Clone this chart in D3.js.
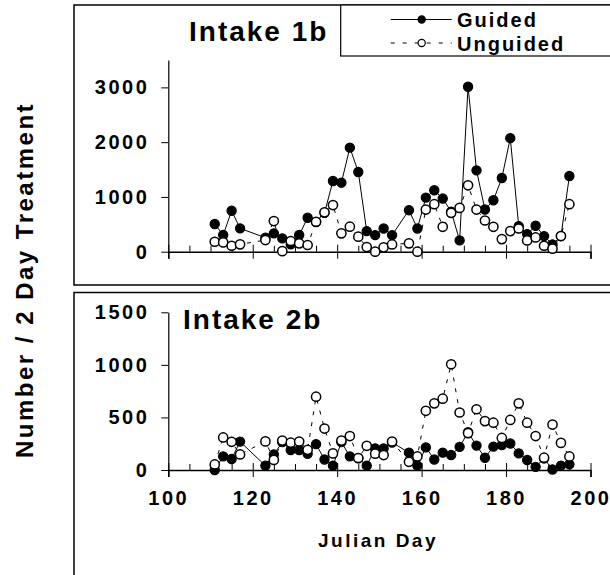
<!DOCTYPE html>
<html>
<head>
<meta charset="utf-8">
<script src="https://cdn.jsdelivr.net/npm/d3@7"></script>
<style>
  body { margin: 0; background: #fff; }
  text { font-family: "Liberation Sans", Arial, sans-serif; font-weight: bold; fill: #000; }
</style>
</head>
<body>
<div id="chart"></div>
<script>
const days = [111,113,115,117,123,125,127,129,131,133,135,137,139,141,143,145,147,149,151,153,
              157,159,161,163,165,167,169,171,173,175,177,179,181,183,185,187,189,191,193,195];

const guided1b   = [505,305,748,426,255,335,243,134,304,620,540,710,1290,1260,1900,1455,376,303,424,303,
                    758,424,988,1121,970,730,206,3012,1485,770,939,1345,2073,467,321,473,285,133,285,1382];
const unguided1b = [182,170,109,134,213,560,10,195,152,122,547,718,851,335,456,274,85,0,79,133,
                    152,0,770,867,455,709,800,1212,770,570,455,230,376,424,206,260,109,55,285,867];

const guided2b   = [0,130,105,270,41,148,265,190,190,155,246,100,41,265,130,112,41,205,205,262,
                    165,41,215,100,165,142,220,359,232,117,222,238,252,158,95,30,110,5,41,54];
const unguided2b = [53,310,268,148,272,96,280,260,271,192,697,394,158,280,323,114,230,155,142,271,
                    78,129,563,634,678,1006,547,351,578,465,450,305,476,634,450,323,117,432,258,129];

const xTicks = [100,120,140,160,180,200];
const xMinor = d3.range(105, 200, 5).filter(d => d % 20 !== 0);
const yTicks1b = [0,1000,2000,3000];
const yTicks2b = [0,500,1000,1500];

const svg = d3.select("#chart").append("svg")
    .attr("width", 610)
    .attr("height", 575);

// panel frames
svg.append("rect").attr("x", 74).attr("y", 5).attr("width", 600).attr("height", 280)
    .attr("fill", "none").attr("stroke", "#000").attr("stroke-width", 1.5);
svg.append("rect").attr("x", 74).attr("y", 292.5).attr("width", 600).attr("height", 320)
    .attr("fill", "none").attr("stroke", "#000").attr("stroke-width", 1.5);

const xScale = d3.scaleLinear().domain([100, 200]).range([168.3, 590.5]);

function drawPanel(title, titleX, titleY, yMax, yTicks, y0, yTop, guided, unguided, showXLabels) {
  const yScale = d3.scaleLinear().domain([0, yMax]).range([y0, yTop]);
  const g = svg.append("g");

  g.append("text")
      .attr("x", titleX).attr("y", titleY)
      .style("font-size", "28px").style("letter-spacing", "2px")
      .text(title);

  // y axis
  const ya = g.append("g")
      .attr("transform", "translate(" + xScale(100) + ",0)")
      .call(d3.axisLeft(yScale).tickValues(yTicks).tickFormat(d3.format("d"))
        .tickSize(7).tickSizeOuter(0).tickPadding(12));
  ya.select(".domain").attr("stroke-width", 1.2);
  ya.selectAll("text").style("font-size", "20px").style("letter-spacing", "2.5px");

  // minor x ticks (inside)
  g.append("g")
      .attr("transform", "translate(0," + y0 + ")")
      .call(d3.axisTop(xScale).tickValues(xMinor).tickSize(6).tickFormat(""))
      .select(".domain").remove();

  // major x ticks, crossing the axis
  const xa = g.append("g")
      .attr("transform", "translate(0," + y0 + ")")
      .call(d3.axisBottom(xScale).tickValues(xTicks).tickSizeOuter(0).tickSize(7).tickPadding(14)
        .tickFormat(showXLabels ? d3.format("d") : ""));
  xa.select(".domain").attr("stroke-width", 1.5);
  xa.selectAll(".tick line").attr("y1", -7).attr("y2", 7);
  xa.selectAll("text").style("font-size", "20px").style("letter-spacing", "2.5px");

  const line = d3.line().x((d, i) => xScale(days[i])).y(d => yScale(d));

  g.append("path").datum(guided)
      .attr("fill", "none").attr("stroke", "#000").attr("stroke-width", 1)
      .attr("d", line);
  g.selectAll(".gdot").data(guided).enter().append("circle")
      .attr("class", "gdot")
      .attr("cx", (d, i) => xScale(days[i]))
      .attr("cy", d => yScale(d))
      .attr("r", 4.6)
      .attr("fill", "#000").attr("stroke", "#000").attr("stroke-width", 1.2);

  g.append("path").datum(unguided)
      .attr("fill", "none").attr("stroke", "#000").attr("stroke-width", 1)
      .attr("stroke-dasharray", "4,7")
      .attr("d", line);
  g.selectAll(".udot").data(unguided).enter().append("circle")
      .attr("class", "udot")
      .attr("cx", (d, i) => xScale(days[i]))
      .attr("cy", d => yScale(d))
      .attr("r", 4.6)
      .attr("fill", "#fff").attr("stroke", "#000").attr("stroke-width", 1.5);
}

drawPanel("Intake 1b", 189, 41, 3500, yTicks1b, 251.7, 60, guided1b, unguided1b, false);
drawPanel("Intake 2b", 183, 329, 1500, yTicks2b, 470, 312.3, guided2b, unguided2b, true);

// legend
const legend = svg.append("g");
legend.append("rect").attr("x", 340.7).attr("y", 5).attr("width", 300).attr("height", 51)
    .attr("fill", "#fff").attr("stroke", "#000").attr("stroke-width", 1.2);
const legendItems = [
  { name: "Guided", y: 19.5, dash: null, fill: "#000" },
  { name: "Unguided", y: 43, dash: "4,8", fill: "#fff" }
];
legendItems.forEach(it => {
  legend.append("line")
      .attr("x1", 390.7).attr("x2", 451.7).attr("y1", it.y).attr("y2", it.y)
      .attr("stroke", "#000").attr("stroke-width", 1)
      .attr("stroke-dasharray", it.dash);
  legend.append("circle")
      .attr("cx", 421.7).attr("cy", it.y).attr("r", 3.6)
      .attr("fill", it.fill).attr("stroke", "#000").attr("stroke-width", 1.2);
  legend.append("text")
      .attr("x", 457).attr("y", it.y + 7.5)
      .style("font-size", "20px").style("letter-spacing", "2px")
      .text(it.name);
});

// axis titles
svg.append("text")
    .attr("x", 378).attr("y", 547)
    .attr("text-anchor", "middle")
    .style("font-size", "19px").style("letter-spacing", "2.5px")
    .text("Julian Day");

svg.append("text")
    .attr("transform", "translate(33,280) rotate(-90)")
    .attr("text-anchor", "middle")
    .style("font-size", "24px").style("letter-spacing", "2.5px")
    .text("Number / 2 Day Treatment");
</script>
</body>
</html>
